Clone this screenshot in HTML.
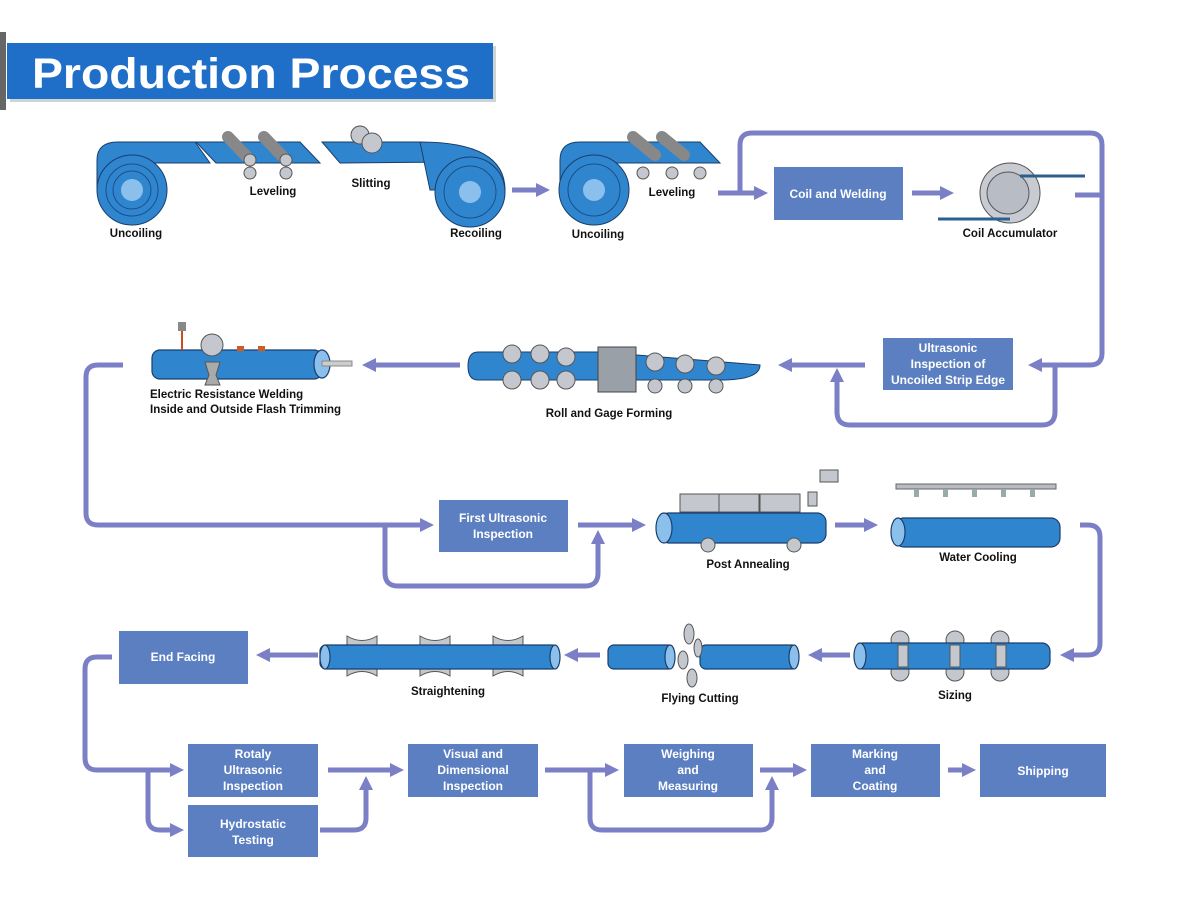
<!DOCTYPE html>
<html><head><meta charset="utf-8"><style>
html,body{margin:0;padding:0;background:#fff;width:1200px;height:900px;overflow:hidden}
svg{display:block}
.l{font-family:"Liberation Sans",sans-serif;font-weight:bold;font-size:11.5px;fill:#111}
.b{font-family:"Liberation Sans",sans-serif;font-weight:bold;font-size:12px;fill:#fff}
.c{fill:none;stroke:#7b7fc6;stroke-width:5;stroke-linejoin:round}
.box{fill:#5b7fc1}
.pipe{fill:#2f86cf;stroke:#1a3d6a;stroke-width:1.2}
.end{fill:#8cc0ec;stroke:#1a3d6a;stroke-width:1.2}
.roll{fill:#c4c8ce;stroke:#555;stroke-width:1}
</style></head><body>
<svg width="1200" height="900" viewBox="0 0 1200 900" xmlns="http://www.w3.org/2000/svg">
<defs>
<marker id="a" markerUnits="userSpaceOnUse" markerWidth="16" markerHeight="16" refX="2" refY="8" orient="auto">
<path d="M0,1 L14,8 L0,15 z" fill="#7b7fc6"/></marker>
</defs>
<!-- title -->
<rect x="0" y="32" width="6" height="78" fill="#666"/>
<rect x="10" y="46" width="486" height="56" fill="#9aa" opacity="0.5"/>
<rect x="7" y="43" width="486" height="56" fill="#1f6fc8"/>
<text x="32" y="88" font-family="Liberation Sans,sans-serif" font-weight="bold" font-size="43" fill="#fff" textLength="438" lengthAdjust="spacingAndGlyphs">Production Process</text>

<!-- connectors -->
<g class="c">
<path d="M512,190 H538" marker-end="url(#a)"/>
<path d="M718,193 H756" marker-end="url(#a)"/>
<path d="M740,193 V145 Q740,133 752,133 H1090 Q1102,133 1102,145 V353 Q1102,365 1090,365 H1040" marker-end="url(#a)"/>
<path d="M1075,195 H1102"/>
<path d="M912,193 H942" marker-end="url(#a)"/>
<path d="M1055,365 V412 Q1055,425 1042,425 H850 Q837,425 837,412 V380" marker-end="url(#a)"/>
<path d="M865,365 H790" marker-end="url(#a)"/>
<path d="M460,365 H374" marker-end="url(#a)"/>
<path d="M123,365 H98 Q86,365 86,377 V513 Q86,525 98,525 H422" marker-end="url(#a)"/>
<path d="M385,525 V573 Q385,586 398,586 H585 Q598,586 598,573 V542" marker-end="url(#a)"/>
<path d="M578,525 H634" marker-end="url(#a)"/>
<path d="M835,525 H866" marker-end="url(#a)"/>
<path d="M1080,525 H1088 Q1100,525 1100,537 V643 Q1100,655 1088,655 H1072" marker-end="url(#a)"/>
<path d="M850,655 H820" marker-end="url(#a)"/>
<path d="M600,655 H576" marker-end="url(#a)"/>
<path d="M318,655 H268" marker-end="url(#a)"/>
<path d="M112,657 H97 Q85,657 85,669 V758 Q85,770 97,770 H172" marker-end="url(#a)"/>
<path d="M148,770 V818 Q148,830 160,830 H172" marker-end="url(#a)"/>
<path d="M328,770 H392" marker-end="url(#a)"/>
<path d="M320,830 H354 Q366,830 366,818 V788" marker-end="url(#a)"/>
<path d="M545,770 H607" marker-end="url(#a)"/>
<path d="M590,770 V818 Q590,830 602,830 H760 Q772,830 772,818 V788" marker-end="url(#a)"/>
<path d="M760,770 H795" marker-end="url(#a)"/>
<path d="M948,770 H964" marker-end="url(#a)"/>
</g>

<!-- boxes -->
<rect class="box" x="774" y="167" width="129" height="53"/><text class="b" x="838" y="198" text-anchor="middle">Coil and Welding</text>
<rect class="box" x="883" y="338" width="130" height="52"/><text class="b" text-anchor="middle" x="948"><tspan x="948" y="352">Ultrasonic</tspan><tspan x="948" y="368">Inspection of</tspan><tspan x="948" y="384">Uncoiled Strip Edge</tspan></text>
<rect class="box" x="439" y="500" width="129" height="52"/><text class="b" text-anchor="middle"><tspan x="503" y="522">First Ultrasonic</tspan><tspan x="503" y="538">Inspection</tspan></text>
<rect class="box" x="119" y="631" width="129" height="53"/><text class="b" x="183" y="661" text-anchor="middle">End Facing</text>
<rect class="box" x="188" y="744" width="130" height="53"/><text class="b" text-anchor="middle"><tspan x="253" y="758">Rotaly</tspan><tspan x="253" y="774">Ultrasonic</tspan><tspan x="253" y="790">Inspection</tspan></text>
<rect class="box" x="188" y="805" width="130" height="52"/><text class="b" text-anchor="middle"><tspan x="253" y="828">Hydrostatic</tspan><tspan x="253" y="844">Testing</tspan></text>
<rect class="box" x="408" y="744" width="130" height="53"/><text class="b" text-anchor="middle"><tspan x="473" y="758">Visual and</tspan><tspan x="473" y="774">Dimensional</tspan><tspan x="473" y="790">Inspection</tspan></text>
<rect class="box" x="624" y="744" width="129" height="53"/><text class="b" text-anchor="middle"><tspan x="688" y="758">Weighing</tspan><tspan x="688" y="774">and</tspan><tspan x="688" y="790">Measuring</tspan></text>
<rect class="box" x="811" y="744" width="129" height="53"/><text class="b" text-anchor="middle"><tspan x="875" y="758">Marking</tspan><tspan x="875" y="774">and</tspan><tspan x="875" y="790">Coating</tspan></text>
<rect class="box" x="980" y="744" width="126" height="53"/><text class="b" x="1043" y="775" text-anchor="middle">Shipping</text>

<!-- top row illustrations -->
<g>
<path d="M97,190 V160 Q97,142 118,142 H195 L210,163 H140 Z" fill="#2f86cf" stroke="#1a3d6a"/>
<circle cx="132" cy="190" r="35" fill="#2f86cf" stroke="#1a3d6a"/>
<circle cx="132" cy="190" r="26" fill="none" stroke="#1a4f8a"/><circle cx="132" cy="190" r="19" fill="none" stroke="#1a4f8a"/>
<circle cx="132" cy="190" r="11" fill="#8cc0ec"/>
<polygon points="196,142 300,142 320,163 216,163" fill="#2f86cf" stroke="#1a3d6a"/>
<g class="roll"><path d="M228,137 L250,160" stroke="#888" stroke-width="12" stroke-linecap="round"/><path d="M264,137 L286,160" stroke="#888" stroke-width="12" stroke-linecap="round"/>
<circle cx="250" cy="160" r="6"/><circle cx="286" cy="160" r="6"/><circle cx="250" cy="173" r="6"/><circle cx="286" cy="173" r="6"/></g>
<polygon points="322,142 420,142 460,162 340,163" fill="#2f86cf" stroke="#1a3d6a"/>
<path d="M420,142 Q505,142 505,190 L430,190 Z" fill="#2f86cf" stroke="#1a3d6a"/>
<circle cx="360" cy="135" r="9" class="roll"/><circle cx="372" cy="143" r="10" class="roll"/>
<circle cx="470" cy="192" r="35" fill="#2f86cf" stroke="#1a3d6a"/>
<circle cx="470" cy="192" r="26" fill="none" stroke="#1a4f8a"/><circle cx="470" cy="192" r="11" fill="#8cc0ec"/>
<path d="M560,190 V160 Q560,142 580,142 H700 L720,163 H600 Z" fill="#2f86cf" stroke="#1a3d6a"/>
<circle cx="594" cy="190" r="35" fill="#2f86cf" stroke="#1a3d6a"/>
<circle cx="594" cy="190" r="26" fill="none" stroke="#1a4f8a"/><circle cx="594" cy="190" r="11" fill="#8cc0ec"/>
<g class="roll"><path d="M633,137 L655,155" stroke="#888" stroke-width="12" stroke-linecap="round"/><path d="M662,137 L684,155" stroke="#888" stroke-width="12" stroke-linecap="round"/>
<circle cx="643" cy="173" r="6"/><circle cx="672" cy="173" r="6"/><circle cx="700" cy="173" r="6"/></g>
<circle cx="1010" cy="193" r="30" fill="#c8ccd2" stroke="#555"/><circle cx="1008" cy="193" r="21" fill="#b8bcc4" stroke="#555"/>
<path d="M1020,176 H1085 M938,219 H1010" stroke="#2a5f90" stroke-width="3"/>
</g>
<text class="l" x="136" y="237" text-anchor="middle">Uncoiling</text>
<text class="l" x="273" y="195" text-anchor="middle">Leveling</text>
<text class="l" x="371" y="187" text-anchor="middle">Slitting</text>
<text class="l" x="476" y="237" text-anchor="middle">Recoiling</text>
<text class="l" x="598" y="238" text-anchor="middle">Uncoiling</text>
<text class="l" x="672" y="196" text-anchor="middle">Leveling</text>
<text class="l" x="1010" y="237" text-anchor="middle">Coil Accumulator</text>

<!-- row 2 -->
<rect class="pipe" x="152" y="350" width="170" height="29" rx="8"/><ellipse class="end" cx="322" cy="364" rx="8" ry="14"/>
<rect x="322" y="361" width="30" height="5" fill="#ccc" stroke="#888"/>
<rect x="178" y="322" width="8" height="9" fill="#888"/><path d="M182,331 V350" stroke="#d04a20" stroke-width="2"/>
<rect x="237" y="346" width="7" height="5" fill="#d05a20"/><rect x="258" y="346" width="7" height="5" fill="#d05a20"/>
<circle cx="212" cy="345" r="11" class="roll"/><path d="M205,362 H220 L216,375 L220,385 H205 L209,375 Z" fill="#aaa" stroke="#555"/>
<text class="l"><tspan x="150" y="398">Electric Resistance Welding</tspan><tspan x="150" y="413">Inside and Outside Flash Trimming</tspan></text>
<path d="M478,352 H600 L760,365 Q760,380 720,380 H478 Q468,380 468,366 Q468,352 478,352 Z" fill="#2f86cf" stroke="#1a3d6a"/>
<g class="roll"><circle cx="512" cy="354" r="9"/><circle cx="540" cy="354" r="9"/><circle cx="566" cy="357" r="9"/><circle cx="512" cy="380" r="9"/><circle cx="540" cy="380" r="9"/><circle cx="566" cy="380" r="9"/>
<circle cx="655" cy="362" r="9"/><circle cx="685" cy="364" r="9"/><circle cx="716" cy="366" r="9"/><circle cx="655" cy="386" r="7"/><circle cx="685" cy="386" r="7"/><circle cx="716" cy="386" r="7"/></g>
<rect x="598" y="347" width="38" height="45" fill="#9aa0a8" stroke="#444"/>
<text class="l" x="609" y="417" text-anchor="middle">Roll and Gage Forming</text>

<!-- row 3 -->
<g class="roll"><rect x="680" y="494" width="40" height="18"/><rect x="719" y="494" width="40" height="18"/><rect x="760" y="494" width="40" height="18"/><rect x="808" y="492" width="9" height="14"/><rect x="820" y="470" width="18" height="12"/></g>
<rect class="pipe" x="660" y="513" width="166" height="30" rx="9"/><ellipse class="end" cx="664" cy="528" rx="8" ry="15"/>
<g class="roll"><circle cx="708" cy="545" r="7"/><circle cx="794" cy="545" r="7"/></g>
<text class="l" x="748" y="568" text-anchor="middle">Post Annealing</text>
<rect x="896" y="484" width="160" height="5" fill="#b8bcc2" stroke="#666"/>
<g fill="#9aa"><rect x="914" y="489" width="5" height="8"/><rect x="943" y="489" width="5" height="8"/><rect x="972" y="489" width="5" height="8"/><rect x="1001" y="489" width="5" height="8"/><rect x="1030" y="489" width="5" height="8"/></g>
<rect class="pipe" x="895" y="518" width="165" height="29" rx="9"/><ellipse class="end" cx="898" cy="532" rx="7" ry="14"/>
<text class="l" x="978" y="561" text-anchor="middle">Water Cooling</text>

<!-- row 4 -->
<g class="roll"><circle cx="900" cy="640" r="9"/><circle cx="955" cy="640" r="9"/><circle cx="1000" cy="640" r="9"/><circle cx="900" cy="672" r="9"/><circle cx="955" cy="672" r="9"/><circle cx="1000" cy="672" r="9"/></g>
<rect class="pipe" x="855" y="643" width="195" height="26" rx="8"/><ellipse class="end" cx="860" cy="656" rx="6" ry="13"/>
<g class="roll"><rect x="898" y="645" width="10" height="22"/><rect x="950" y="645" width="10" height="22"/><rect x="996" y="645" width="10" height="22"/></g>
<text class="l" x="955" y="699" text-anchor="middle">Sizing</text>
<rect class="pipe" x="608" y="645" width="66" height="24" rx="6"/><ellipse class="end" cx="670" cy="657" rx="5" ry="12"/>
<rect class="pipe" x="700" y="645" width="98" height="24" rx="6"/><ellipse class="end" cx="794" cy="657" rx="5" ry="12"/>
<g class="roll"><ellipse cx="689" cy="634" rx="5" ry="10"/><ellipse cx="683" cy="660" rx="5" ry="9"/><ellipse cx="692" cy="678" rx="5" ry="9"/><ellipse cx="698" cy="648" rx="4" ry="9"/></g>
<text class="l" x="700" y="702" text-anchor="middle">Flying Cutting</text>
<g class="roll"><path d="M347,636 Q362,645 377,636 V648 H347 Z"/><path d="M420,636 Q435,645 450,636 V648 H420 Z"/><path d="M493,636 Q508,645 523,636 V648 H493 Z"/>
<path d="M347,676 Q362,667 377,676 V664 H347 Z"/><path d="M420,676 Q435,667 450,676 V664 H420 Z"/><path d="M493,676 Q508,667 523,676 V664 H493 Z"/></g>
<rect class="pipe" x="320" y="645" width="238" height="24" rx="6"/><ellipse class="end" cx="325" cy="657" rx="5" ry="12"/><ellipse class="end" cx="555" cy="657" rx="5" ry="12"/>
<text class="l" x="448" y="695" text-anchor="middle">Straightening</text>
</svg>
</body></html>
